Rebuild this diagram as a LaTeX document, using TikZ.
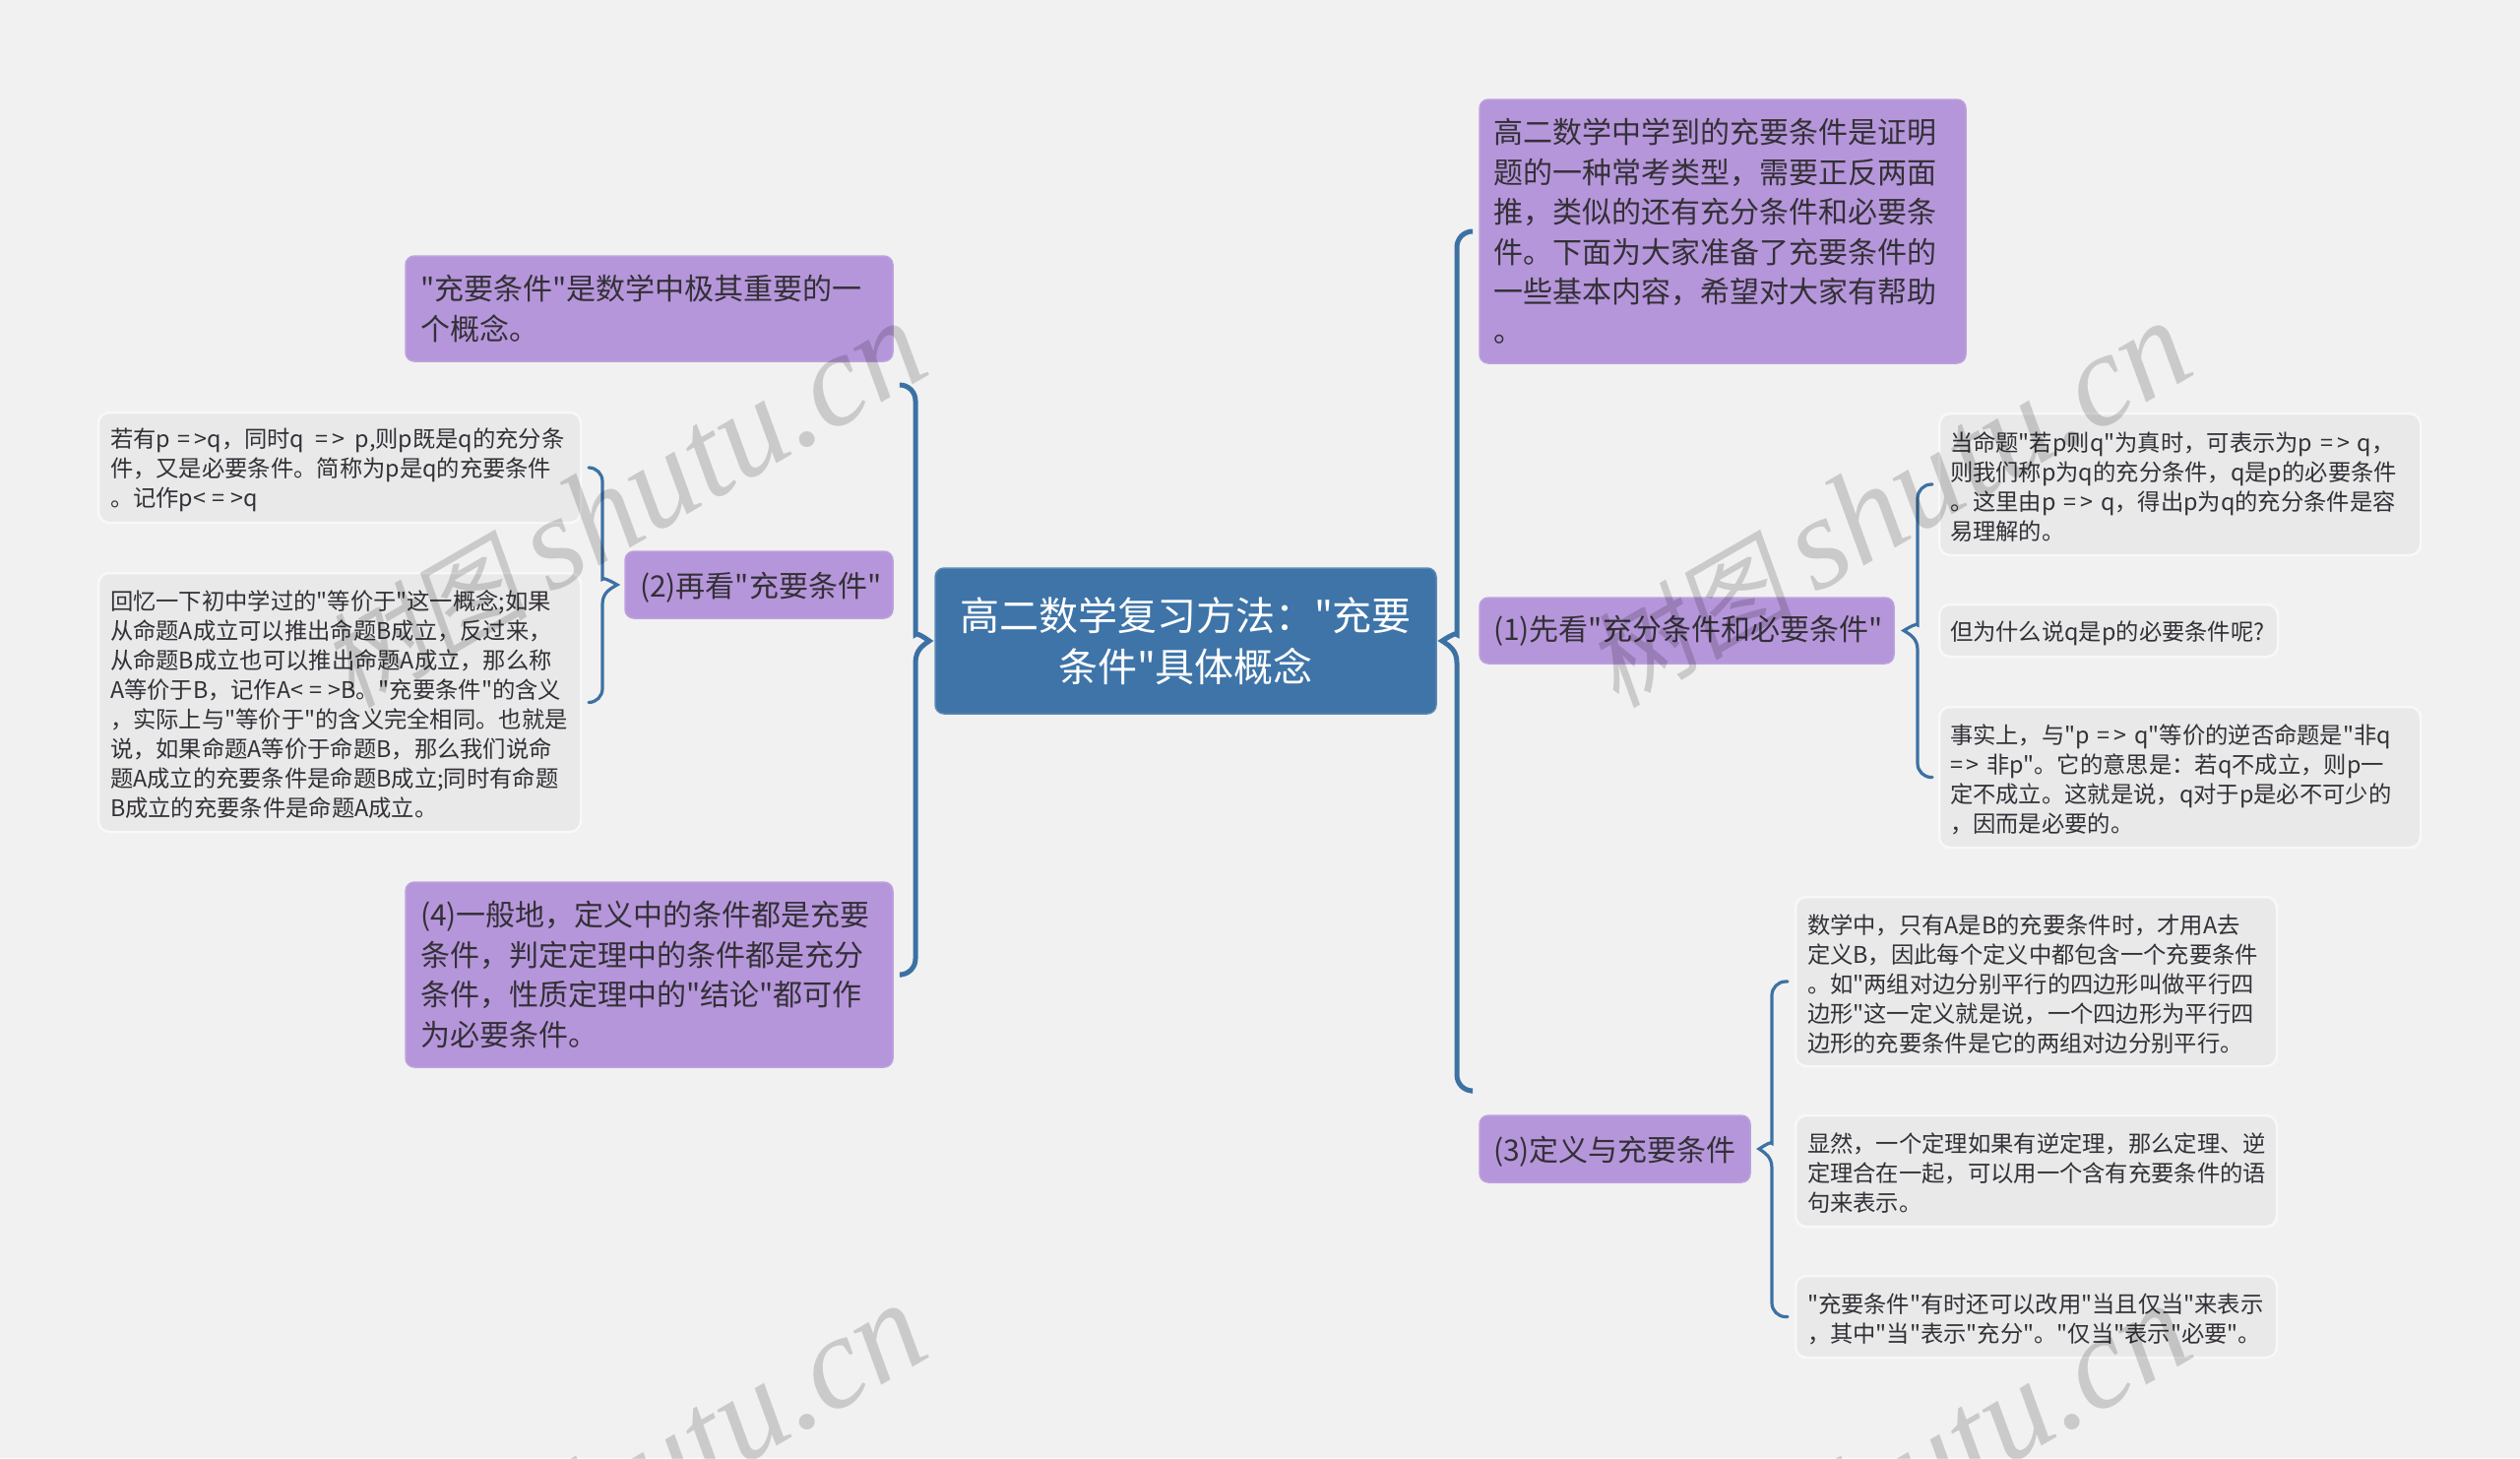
\documentclass[tikz,border=0pt]{standalone}
\usepackage{fontspec}
\usetikzlibrary{calc}
\newfontfamily\cnfont{Noto Sans CJK SC}
\newfontfamily\wmlatin{Liberation Serif Italic}
\newfontfamily\wmcjk[FakeSlant=0.18]{Noto Sans CJK SC}
\definecolor{pagebg}{HTML}{F1F1F1}
\definecolor{purplefill}{HTML}{B696DA}
\definecolor{purpleedge}{HTML}{BCA0DE}
\definecolor{leaffill}{HTML}{E9E9E9}
\definecolor{rootfill}{HTML}{3E74A8}
\definecolor{linkblue}{HTML}{3C71A3}
\definecolor{inkdark}{HTML}{333037}
\newcommand\imp{=\kern4pt>}
\newcommand\equi{<\kern6pt=\kern6pt>}
\tikzset{
  x=1pt,y=-1pt,
  basebox/.style={rounded corners=9pt,inner sep=0pt,outer sep=0pt,align=left,text=inkdark},
  rootbox/.style={basebox,fill=rootfill,draw=rootfill!85!white,line width=1.5pt,align=center,text=white,
     font=\cnfont\fontsize{40pt}{52pt}\selectfont},
  midbox/.style={basebox,fill=purplefill,draw=purpleedge,line width=1.5pt,
     font=\cnfont\fontsize{30pt}{40.4pt}\selectfont},
  leafbox/.style={basebox,rounded corners=11pt,fill=leaffill,draw=white!70!leaffill,line width=2.5pt,
     font=\cnfont\fontsize{23.3pt}{30pt}\selectfont,execute at begin node={\rule{0pt}{24.5pt}}},
  lowered/.style={execute at begin node={\rule{0pt}{31.5pt}}},
  bigbrace/.style={draw=linkblue,line width=5pt,line cap=round},
  smallbrace/.style={draw=linkblue,line width=3.2pt,line cap=round},
  watermark/.style={inner sep=0pt,anchor=base east,rotate=30,text=black,text opacity=.16,
     font=\fontsize{134pt}{134pt}\selectfont},
}
% box: style, name, x1, y1, x2, y2, padding, text
\newcommand\boxnode[8]{%
  \pgfmathsetmacro\bw{#5-#3}\pgfmathsetmacro\bh{#6-#4}%
  \pgfmathsetmacro\tw{#5-#3-2*#7}%
  \pgfmathsetmacro\cx{(#3+#5)/2}\pgfmathsetmacro\cy{(#4+#6)/2}%
  \node[#1,minimum width=\bw pt,minimum height=\bh pt,text width=\tw pt] (#2) at (\cx,\cy) {\hyphenpenalty=10000 #8};%
}
% brace: style, tip, spine coordinate, top end, bottom end, radius
\newcommand\bracelink[6]{%
  \pgfmathsetmacro\nub{1.4*#6}%
  \draw[#1] (#4) [rounded corners=#6 pt] -| ($(#3 |- #2)+(0,-\nub)$) [sharp corners]
    .. controls ($(#3 |- #2)+(0,-\nub/2.5)$) and ($(#2)!.45!(#3 |- #2)+(0,-\nub/5)$) .. (#2)
    .. controls ($(#2)!.45!(#3 |- #2)+(0,\nub/5)$) and ($(#3 |- #2)+(0,\nub/2.5)$) .. ($(#3 |- #2)+(0,\nub)$)
    [rounded corners=#6 pt] |- (#5);%
}
\begin{document}
\begin{tikzpicture}
\useasboundingbox (0,0) rectangle (2560,1481);
\fill[pagebg] (0,0) rectangle (2560,1481);

\boxnode{rootbox}{root}{950}{577}{1459}{725}{20}{高二数学复习方法："充要\\条件"具体概念}

\boxnode{midbox}{intro}{1503}{101}{1997}{369}{14}{高二数学中学到的充要条件是证明\\题的一种常考类型，需要正反两面\\推，类似的还有充分条件和必要条\\件。下面为大家准备了充要条件的\\一些基本内容，希望对大家有帮助\\。}
\boxnode{midbox}{first}{1503}{607}{1924}{674}{14}{(1)先看"充分条件和必要条件"}
\boxnode{midbox,lowered}{third}{1503}{1133}{1778}{1201}{14}{(3)定义与充要条件}
\boxnode{midbox}{lead}{412}{260}{907}{367}{15}{"充要条件"是数学中极其重要的一\\个概念。}
\boxnode{midbox,lowered}{second}{635}{560}{907}{628}{15}{(2)再看"充要条件"}
\boxnode{midbox}{fourth}{412}{896}{907}{1084}{15}{(4)一般地，定义中的条件都是充要\\条件，判定定理中的条件都是充分\\条件，性质定理中的"结论"都可作\\为必要条件。}

\boxnode{leafbox}{ra}{1970}{420}{2459}{564}{11}{当命题"若p则q"为真时，可表示为p~\imp~q，\\则我们称p为q的充分条件，q是p的必要条件\\。这里由p~\imp~q，得出p为q的充分条件是容\\易理解的。}
\boxnode{leafbox}{rb}{1970}{614}{2314}{667}{11}{但为什么说q是p的必要条件呢?}
\boxnode{leafbox}{rc}{1970}{718}{2459}{861}{11}{事实上，与"p~\imp~q"等价的逆否命题是"非q\\\imp~非p"。它的意思是：若q不成立，则p一\\定不成立。这就是说，q对于p是必不可少的\\，因而是必要的。}
\boxnode{leafbox}{ta}{1824}{911}{2313}{1083}{12}{数学中，只有A是B的充要条件时，才用A去\\定义B，因此每个定义中都包含一个充要条件\\。如"两组对边分别平行的四边形叫做平行四\\边形"这一定义就是说，一个四边形为平行四\\边形的充要条件是它的两组对边分别平行。}
\boxnode{leafbox}{tb}{1824}{1133}{2313}{1246}{12}{显然，一个定理如果有逆定理，那么定理、逆\\定理合在一起，可以用一个含有充要条件的语\\句来表示。}
\boxnode{leafbox}{tc}{1824}{1296}{2313}{1379}{12}{"充要条件"有时还可以改用"当且仅当"来表示\\，其中"当"表示"充分"。"仅当"表示"必要"。}
\boxnode{leafbox}{sa}{100}{419}{590}{531}{12}{若有p~\imp q，同时q~\kern3pt\imp\kern3pt~p,则p既是q的充分条\\件，又是必要条件。简称为p是q的充要条件\\。记作p\equi q}
\boxnode{leafbox}{sb}{100}{582}{590}{845}{12}{回忆一下初中学过的"等价于"这一概念;如果\\从命题A成立可以推出命题B成立，反过来，\\从命题B成立也可以推出命题A成立，那么称\\A等价于B，记作A\equi B。"充要条件"的含义\\，实际上与"等价于"的含义完全相同。也就是\\说，如果命题A等价于命题B，那么我们说命\\题A成立的充要条件是命题B成立;同时有命题\\B成立的充要条件是命题A成立。}

% connector ends
\coordinate (rtip) at ($(root.east)+(6,0)$);
\coordinate (rspine) at (1480,651);
\coordinate (rtop) at ($(intro.west)+(-9,0)$);
\coordinate (rbot) at (1494,1108);
\bracelink{bigbrace}{rtip}{rspine}{rtop}{rbot}{16}

\coordinate (ltip) at ($(root.west)+(-6,0)$);
\coordinate (lspine) at (930,651);
\coordinate (ltop) at (915,391);
\coordinate (lbot) at ($(fourth.east)+(9,0)$);
\bracelink{bigbrace}{ltip}{lspine}{ltop}{lbot}{16}

\coordinate (ftip) at ($(first.east)+(10,0)$);
\coordinate (fspine) at ($(ftip)+(14,0)$);
\coordinate (ftop) at ($(ra.west)+(-7,0)$);
\coordinate (fbot) at ($(rc.west)+(-7,0)$);
\bracelink{smallbrace}{ftip}{fspine}{ftop}{fbot}{14}

\coordinate (stip) at ($(second.west)+(-8,0)$);
\coordinate (sspine) at ($(stip)+(-15,0)$);
\coordinate (stop) at ($(sa.east)+(8,0)$);
\coordinate (sbot) at ($(sb.east)+(8,0)$);
\bracelink{smallbrace}{stip}{sspine}{stop}{sbot}{14}

\coordinate (ttip) at ($(third.east)+(9,0)$);
\coordinate (tspine) at ($(ttip)+(13,0)$);
\coordinate (ttop) at ($(ta.west)+(-8,0)$);
\coordinate (tbot) at ($(tc.west)+(-8,0)$);
\bracelink{smallbrace}{ttip}{tspine}{ttop}{tbot}{14}

% watermark
\foreach \wx/\wy/\wn in {950/378/wa,2235/378/wb,950/1376/wc,2235/1376/wd}{
  \node[watermark] (\wn) at (\wx,\wy) {{\wmcjk\fontsize{106pt}{106pt}\selectfont 树图}\kern22pt{\wmlatin shutu.cn}};
}
\end{tikzpicture}
\end{document}
